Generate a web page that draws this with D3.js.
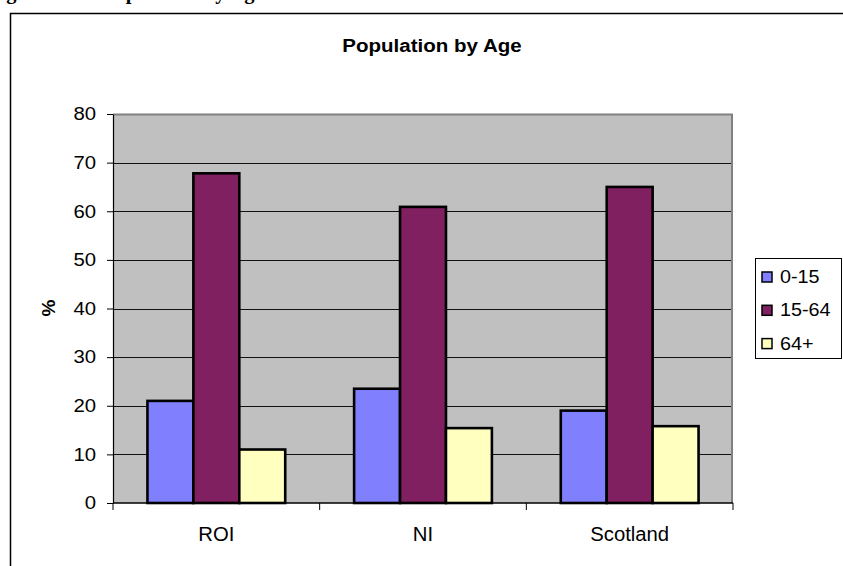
<!DOCTYPE html>
<html>
<head>
<meta charset="utf-8">
<script src="https://cdn.jsdelivr.net/npm/d3@7"></script>
<style>
  html, body { margin: 0; padding: 0; background: #fff; }
  svg { display: block; }
  text { font-family: "Liberation Sans", Arial, sans-serif; fill: #000; }
</style>
</head>
<body>
<svg id="chart" width="843" height="566"></svg>
<script>
// Data
const categories = ["ROI", "NI", "Scotland"];
const series = ["0-15", "15-64", "64+"];
const values0to15 = [21.0, 23.5, 19.0];
const values15to64 = [67.8, 60.9, 65.0];
const values64plus = [11.0, 15.4, 15.8];
const yTicks = [0, 10, 20, 30, 40, 50, 60, 70, 80];
const seriesColors = ["#8080FF", "#802060", "#FFFFC0"];

const seriesValues = [values0to15, values15to64, values64plus];
const rows = categories.map((c, i) => ({
  category: c,
  bars: series.map((s, j) => ({ series: s, value: seriesValues[j][i], color: seriesColors[j] }))
}));

const svg = d3.select("#chart");
const W = 843, H = 566;
const SX = 1.13; // horizontal widening of the sans-serif labels

// Page heading running off the top edge, and the frame around the chart
const heading = svg.append("text")
  .attr("x", -12).attr("y", -1)
  .style("font-family", "'Liberation Serif', 'Times New Roman', serif")
  .style("font-weight", "bold")
  .style("font-size", "20.5px");
heading.append("tspan").text("Figure 2.3:");
heading.append("tspan").attr("x", 103).text("Population by Age");

svg.append("path")
  .attr("d", `M10.5,${H} V13.5 H${W}`)
  .attr("fill", "none").attr("stroke", "#000").attr("stroke-width", 1.5);

// Chart title
svg.append("text")
  .attr("transform", "translate(432,52) scale(1.08,1)")
  .attr("text-anchor", "middle")
  .style("font-weight", "bold").style("font-size", "19px")
  .text("Population by Age");

// Plot area
const plot = { left: 113, right: 733, top: 114, bottom: 503 };

const y = d3.scaleLinear().domain([0, 80]).range([plot.bottom, plot.top]);
const x0 = d3.scaleBand().domain(categories).range([plot.left, plot.right]).paddingInner(0).paddingOuter(0);
const x1 = d3.scaleBand().domain(series).range([0, x0.bandwidth()]).paddingInner(0).paddingOuter(0.75);

svg.append("rect")
  .attr("x", plot.left).attr("y", plot.top)
  .attr("width", plot.right - plot.left).attr("height", plot.bottom - plot.top)
  .attr("fill", "#C0C0C0");

// Horizontal gridlines
svg.append("g").selectAll("line")
  .data(yTicks.filter(t => t > 0 && t < 80))
  .join("line")
  .attr("x1", plot.left).attr("x2", plot.right)
  .attr("y1", d => Math.round(y(d)) + 0.5).attr("y2", d => Math.round(y(d)) + 0.5)
  .attr("stroke", "#111").attr("stroke-width", 1);

// Plot border (top and right)
svg.append("path")
  .attr("d", `M${plot.left},${plot.top + 0.5} H${plot.right - 1} V${plot.bottom}`)
  .attr("fill", "none").attr("stroke", "#808080").attr("stroke-width", 2);

// Bars
const groups = svg.append("g").selectAll("g")
  .data(rows)
  .join("g")
  .attr("transform", d => `translate(${x0(d.category)},0)`);

groups.selectAll("rect")
  .data(d => d.bars)
  .join("rect")
  .attr("x", d => x1(d.series))
  .attr("y", d => y(d.value))
  .attr("width", x1.bandwidth())
  .attr("height", d => y(0) - y(d.value))
  .attr("fill", d => d.color)
  .attr("stroke", "#000")
  .attr("stroke-width", 2.6);

// Y axis
const yAxis = svg.append("g")
  .attr("transform", `translate(${plot.left},0)`)
  .call(d3.axisLeft(y).tickValues(yTicks).tickSize(6).tickSizeOuter(0));
yAxis.select(".domain").attr("stroke", "#000").attr("stroke-width", 1.2);
yAxis.selectAll(".tick line").attr("stroke", "#000");
yAxis.selectAll(".tick text")
  .attr("x", -17 / SX)
  .attr("transform", `scale(${SX},1)`)
  .style("font-family", "'Liberation Sans', Arial, sans-serif")
  .style("font-size", "18px");

// X axis
const xAxis = svg.append("g")
  .attr("transform", `translate(0,${plot.bottom})`);
xAxis.append("line")
  .attr("x1", plot.left).attr("x2", plot.right)
  .attr("stroke", "#000").attr("stroke-width", 1.5);
const boundaries = categories.map(c => x0(c)).concat([plot.right]);
xAxis.selectAll("line.tick")
  .data(boundaries)
  .join("line").attr("class", "tick")
  .attr("x1", d => d).attr("x2", d => d)
  .attr("y1", 0).attr("y2", 7)
  .attr("stroke", "#000");
xAxis.selectAll("text")
  .data(categories)
  .join("text")
  .attr("transform", d => `translate(${x0(d) + x0.bandwidth() / 2},38) scale(1.04,1)`)
  .attr("text-anchor", "middle")
  .style("font-size", "19.5px")
  .text(d => d);

// Y axis title
svg.append("text")
  .attr("transform", "translate(55,308) rotate(-90)")
  .attr("text-anchor", "middle")
  .style("font-weight", "bold").style("font-size", "19px")
  .text("%");

// Legend
const legend = svg.append("g").attr("transform", "translate(755.5,258.5)");
legend.append("rect")
  .attr("width", 86).attr("height", 100)
  .attr("fill", "#fff").attr("stroke", "#000").attr("stroke-width", 1);
const items = legend.selectAll("g.item")
  .data(series.map((s, j) => ({ label: s, color: seriesColors[j] })))
  .join("g").attr("class", "item")
  .attr("transform", (d, i) => `translate(0,${13.5 + i * 33.3})`);
items.append("rect")
  .attr("x", 6.5).attr("y", 0)
  .attr("width", 10).attr("height", 10)
  .attr("fill", d => d.color).attr("stroke", "#000").attr("stroke-width", 1.5);
items.append("text")
  .attr("transform", `translate(24.5,11) scale(${SX},1)`)
  .style("font-size", "17.5px")
  .text(d => d.label);
</script>
</body>
</html>
